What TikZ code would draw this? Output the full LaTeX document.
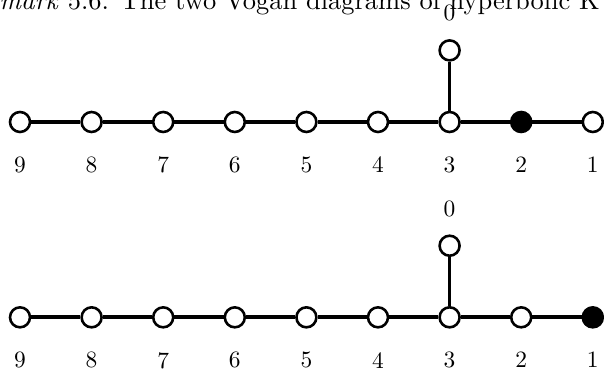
\documentclass[tikz,border=0pt]{standalone}
\usepackage{tikz}
\usetikzlibrary{positioning}

\begin{document}
\begin{tikzpicture}[
  v/.style={circle, draw, line width=1.1pt, fill=white, minimum size=3mm, inner sep=0pt},
  vb/.style={v, fill=black},
  e/.style={line width=1.6pt},
  label distance=2.3mm,
  top/.style={yshift=-0.9mm}
]
\useasboundingbox (0,0) rectangle (9.06,5.55);

% Clipped caption line from the page
\node[anchor=base west, inner sep=0pt, scale=1.13, transform shape] (title) at (-0.47,5.40)
  {\textit{Remark} 5.6. The two Vogan diagrams of hyperbolic K};

% First diagram: node 2 black
\node[v, label=below:9] (a9) at (0.300,3.72) {};
\node[v, label=below:8] (a8) at (1.374,3.72) {};
\node[v, label=below:7] (a7) at (2.448,3.72) {};
\node[v, label=below:6] (a6) at (3.522,3.72) {};
\node[v, label=below:5] (a5) at (4.596,3.72) {};
\node[v, label=below:4] (a4) at (5.670,3.72) {};
\node[v, label=below:3] (a3) at (6.744,3.72) {};
\node[vb, label=below:2] (a2) at (7.818,3.72) {};
\node[v, label=below:1] (a1) at (8.892,3.72) {};
\node[v, label={[top]above:0}] (a0) at (6.744,4.794) {};

\draw[e] (a9) -- (a8);
\draw[e] (a8) -- (a7);
\draw[e] (a7) -- (a6);
\draw[e] (a6) -- (a5);
\draw[e] (a5) -- (a4);
\draw[e] (a4) -- (a3);
\draw[e] (a3) -- (a2);
\draw[e] (a2) -- (a1);
\draw[e] (a3) -- (a0);

% Second diagram: node 1 black
\node[v, label=below:9] (b9) at (0.300,0.79) {};
\node[v, label=below:8] (b8) at (1.374,0.79) {};
\node[v, label=below:7] (b7) at (2.448,0.79) {};
\node[v, label=below:6] (b6) at (3.522,0.79) {};
\node[v, label=below:5] (b5) at (4.596,0.79) {};
\node[v, label=below:4] (b4) at (5.670,0.79) {};
\node[v, label=below:3] (b3) at (6.744,0.79) {};
\node[v, label=below:2] (b2) at (7.818,0.79) {};
\node[vb, label=below:1] (b1) at (8.892,0.79) {};
\node[v, label={[top]above:0}] (b0) at (6.744,1.864) {};

\draw[e] (b9) -- (b8);
\draw[e] (b8) -- (b7);
\draw[e] (b7) -- (b6);
\draw[e] (b6) -- (b5);
\draw[e] (b5) -- (b4);
\draw[e] (b4) -- (b3);
\draw[e] (b3) -- (b2);
\draw[e] (b2) -- (b1);
\draw[e] (b3) -- (b0);

\end{tikzpicture}
\end{document}
